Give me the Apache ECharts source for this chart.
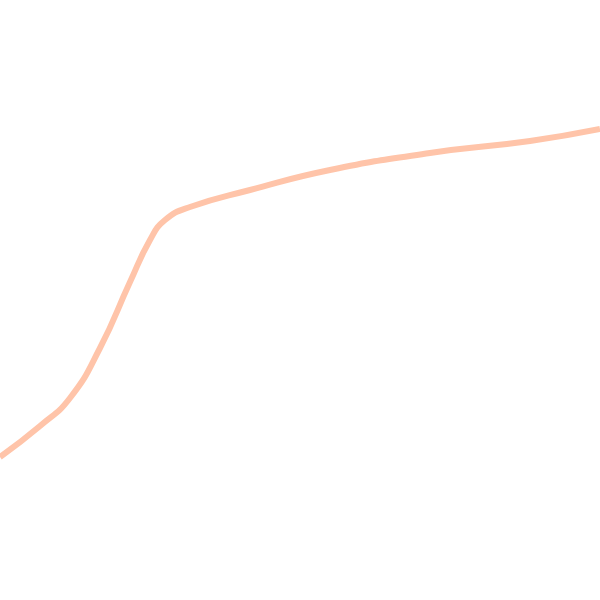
<!DOCTYPE html>
<html>
<head>
<meta charset="utf-8">
<script src="https://cdn.jsdelivr.net/npm/echarts@6/dist/echarts.min.js"></script>
<style>
  html, body { margin: 0; padding: 0; background: #ffffff; }
  #main { width: 600px; height: 600px; }
</style>
</head>
<body>
<div id="main"></div>
<script>
const xValues = [0, 40, 70, 100, 130, 150, 165, 190, 250, 330, 430, 530, 600];
const yValues = [143, 174, 202, 252, 318, 360, 380, 393, 410, 430, 447, 459, 471];

const chart = echarts.init(document.getElementById('main'));

const option = {
  backgroundColor: '#ffffff',
  animation: false,
  grid: { left: 0, right: 0, top: 0, bottom: 0 },
  xAxis: { type: 'value', min: 0, max: 600, show: false },
  yAxis: { type: 'value', min: 0, max: 600, show: false },
  series: [{
    type: 'line',
    smooth: 0.5,
    symbol: 'none',
    lineStyle: { color: '#ffc4a9', width: 6 },
    data: xValues.map((x, i) => [x, yValues[i]])
  }]
};

chart.setOption(option);
</script>
</body>
</html>
